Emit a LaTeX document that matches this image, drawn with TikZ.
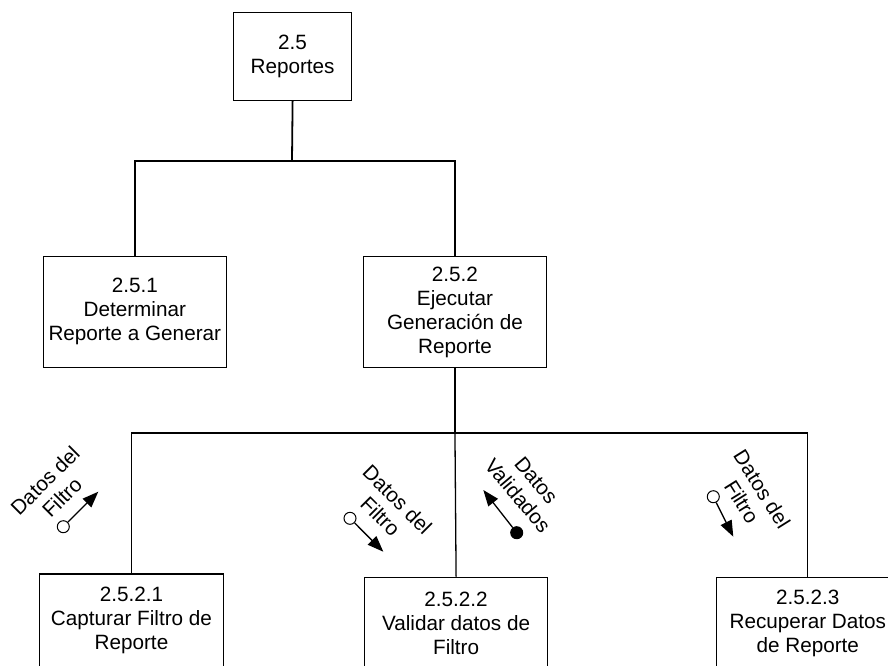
\documentclass[tikz,border=0pt]{standalone}
\usepackage{fontspec}
\setmainfont{Liberation Sans}
\usetikzlibrary{arrows.meta}
\begin{document}
\begin{tikzpicture}[x=1pt,y=-1pt,
  box/.style={draw,line width=1.2pt,align=center,inner sep=0pt,anchor=north west,
    font=\fontsize{20.7}{24}\selectfont},
  conn/.style={line width=1.8pt},
  connthin/.style={line width=1.3pt},
  lbl/.style={align=center,inner sep=0pt,font=\fontsize{20.7}{24}\selectfont},
  opendot/.style={circle,draw,fill=white,line width=1pt,minimum size=12pt,inner sep=0pt},
  fulldot/.style={circle,draw,fill=black,line width=1pt,minimum size=12pt,inner sep=0pt},
  couple/.style={line width=1.3pt,-{Triangle[length=16pt,width=12pt]}}]
\useasboundingbox (0,0) rectangle (888,665);
% boxes
\node[box,minimum width=118pt,minimum height=88.3pt] (top) at (233,11.7) {2.5\\Reportes};
\node[box,minimum width=183pt,minimum height=111pt] (b251) at (42.7,255.7) {2.5.1\\Determinar\\Reporte a Generar};
\node[box,minimum width=183.3pt,minimum height=111.3pt] (b252) at (362.7,255.7) {2.5.2\\Ejecutar\\Generación de\\Reporte};
\node[box,minimum width=183.7pt,minimum height=93pt] (b2521) at (39,573.3) {2.5.2.1\\Capturar Filtro de\\Reporte};
\node[box,minimum width=183pt,minimum height=93pt] (b2522) at (364,576.7) {2.5.2.2\\Validar datos de\\Filtro};
\node[box,minimum width=183pt,minimum height=93pt] (b2523) at (715.7,576.7) {2.5.2.3\\Recuperar Datos\\de Reporte};
% tree connectors
\coordinate (h1) at (292,160.7);
\coordinate (h2) at (456,432.7);
\draw[conn] (top.south) -- (h1);
\draw[conn] (b251.north) -- (b251.north |- h1) -- (b252.north |- h1) -- (b252.north);
\draw[conn] (b252.south) -- (b252.south |- h2);
\draw[conn] (b2521.north |- h2) -- (b2523.north |- h2);
\draw[connthin] (b2521.north |- h2) -- (b2521.north);
\draw[connthin] (b252.south |- h2) -- (b2522.north);
\draw[connthin] (b2523.north |- h2) -- (b2523.north);
% data couples
\node[opendot] (c1) at (63.3,526.7) {};
\coordinate (t1) at (98.3,491.7);
\draw[couple] (c1) -- (t1);
\node[lbl,rotate=45] (l1) at (53.5,489) {Datos del\\Filtro};

\node[opendot] (c2) at (350,518.3) {};
\coordinate (t2) at (383.3,551.7);
\draw[couple] (c2) -- (t2);
\node[lbl,rotate=-45] (l2) at (389,508) {Datos del\\Filtro};

\node[fulldot] (c3) at (516.7,532.7) {};
\coordinate (t3) at (483.3,490);
\draw[couple] (c3) -- (t3);
\node[lbl,rotate=-50] (l3) at (527,488) {Datos\\Validados};

\node[opendot] (c4) at (713.3,496.7) {};
\coordinate (t4) at (733.3,536.7);
\draw[couple] (c4) -- (t4);
\node[lbl,rotate=-58] (l4) at (752,495.5) {Datos del\\Filtro};
\end{tikzpicture}
\end{document}
